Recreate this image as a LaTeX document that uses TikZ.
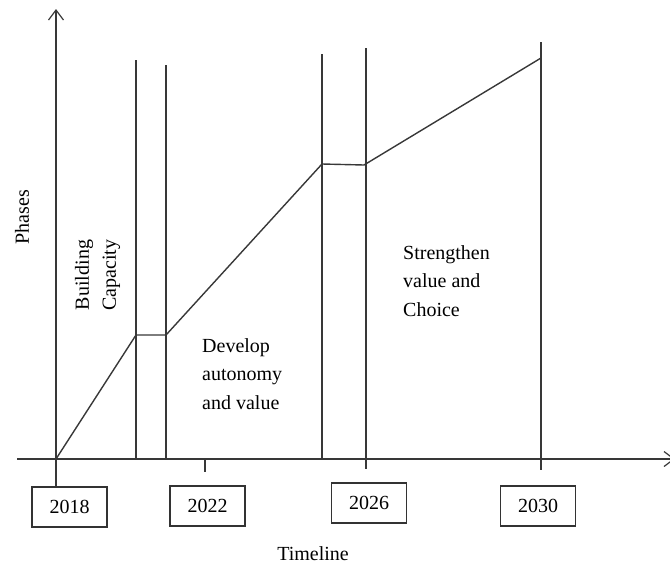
\documentclass[tikz,border=0pt]{standalone}
\usepackage{fontspec}
\setmainfont{Liberation Serif}
\usetikzlibrary{arrows.meta}
\begin{document}
\begin{tikzpicture}[x=1pt,y=-1pt,
  ln/.style={draw=black!78, line width=1.4pt},
  axisarrow/.style={ln, -{Straight Barb[length=10pt,width=15pt,line width=1.2pt]}},
  yearbox/.style={draw=black!80, line width=1.4pt, minimum width=75pt, minimum height=40pt, inner sep=0pt, font=\fontsize{20}{24}\selectfont},
  lbl/.style={inner sep=0pt, font=\fontsize{20}{28.5}\selectfont, align=left, anchor=base west},
  phasebar/.style={ln}]
\useasboundingbox (0,0) rectangle (670,566);
% coordinates
\coordinate (O) at (56,459);
\coordinate (ytip) at (56,9);
\coordinate (xstart) at (17,459);
\coordinate (xtip) at (675,459);
% year boxes
\node[yearbox] (b2018) at (69.5,507) {2018};
\node[yearbox] (b2022) at (207.5,506) {2022};
\node[yearbox] (b2026) at (369,503) {2026};
\node[yearbox] (b2030) at (538,506) {2030};
% axes
\draw[axisarrow] (O |- b2018.north) -- (ytip);
\draw[axisarrow] (xstart) -- (xtip);
% phase boundaries
\coordinate (v1t) at (136,60);  \coordinate (v1b) at (136,459);
\coordinate (v2t) at (166,65);  \coordinate (v2b) at (166,459);
\coordinate (v3t) at (322,54);  \coordinate (v3b) at (322,459);
\coordinate (v4t) at (366,48);  \coordinate (v4b) at (366,469);
\coordinate (v5t) at (541,42);  \coordinate (v5b) at (541,470);
\coordinate (t2022t) at (205,459); \coordinate (t2022b) at (205,472);
\draw[phasebar] (v1t) -- (v1b);
\draw[phasebar] (v2t) -- (v2b);
\draw[phasebar] (v3t) -- (v3b);
\draw[phasebar] (v4t) -- (v4b);
\draw[phasebar] (v5t) -- (v5b);
\draw[ln] (t2022t) -- (t2022b);
% progress line
\coordinate (p1) at (136,335);
\coordinate (p2) at (166,335);
\coordinate (p3) at (322,164);
\coordinate (p4) at (364,165);
\coordinate (p5) at (541,58);
\draw[ln, line join=round] (O) -- (p1) -- (p2) -- (p3) -- (p4) -- (p5);
% labels
\node[inner sep=0pt, rotate=90, font=\fontsize{20}{24}\selectfont] (phases) at (22,217) {Phases};
\node[inner sep=0pt, rotate=90, align=center, font=\fontsize{20}{27}\selectfont] (build) at (97.5,275) {Building\\Capacity};
\node[lbl] (dev) at (202,409) {Develop\\autonomy\\and value};
\node[lbl] (str) at (403,316) {Strengthen\\value and\\Choice};
\node[inner sep=0pt, anchor=base, font=\fontsize{20}{24}\selectfont] (tl) at (313,560) {Timeline};
\end{tikzpicture}
\end{document}
